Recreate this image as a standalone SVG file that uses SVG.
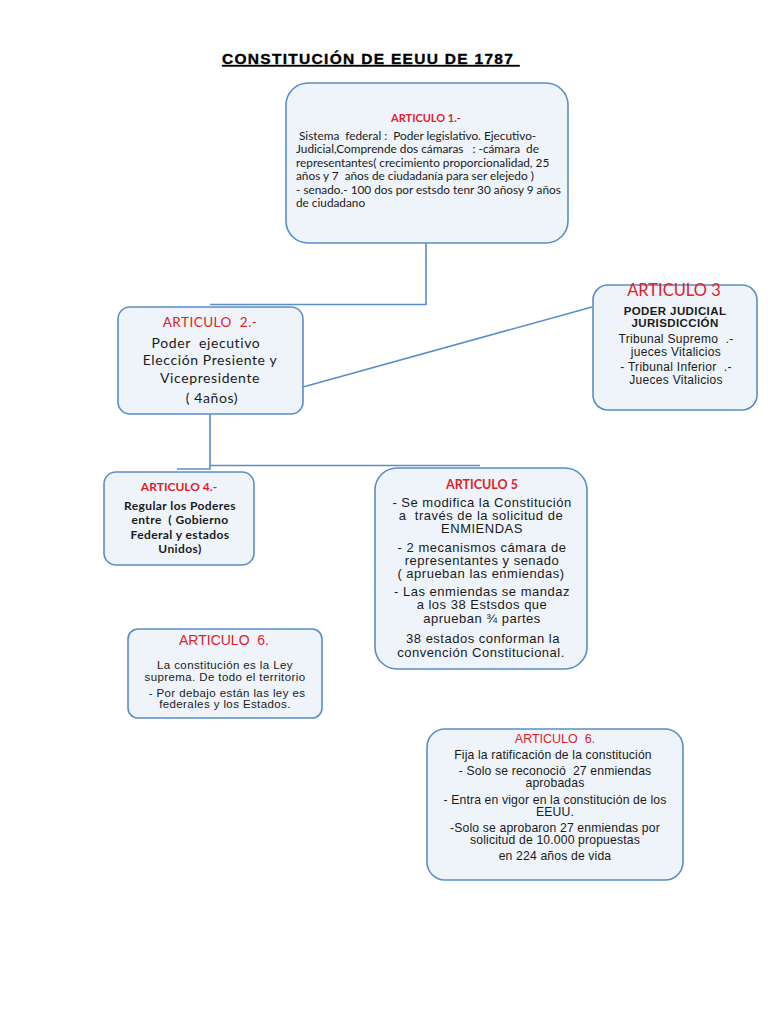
<svg xmlns="http://www.w3.org/2000/svg" width="768" height="1024" viewBox="0 0 768 1024">
<style>
.box{fill:#eef4fa;stroke:#5b8dc8;stroke-width:1.6}
.con{fill:none;stroke:#5b8dc8;stroke-width:1.6}
.cal{font-family:Lato,"Open Sans","Liberation Sans",sans-serif;fill:#1a1a1a}
.ari{font-family:"Liberation Sans",Arial,sans-serif;fill:#1a1a1a}
.c{text-anchor:middle}
.cal.red,.ari.red{fill:#e3202a}
</style>
<rect width="768" height="1024" fill="#ffffff"/>
<text x="222" y="64" xml:space="preserve" font-family="'Liberation Sans',Arial,sans-serif" font-weight="bold" font-size="15.5" letter-spacing="1.3" text-decoration="underline" fill="#000" stroke="#000" stroke-width="0.35">CONSTITUCIÓN DE EEUU DE 1787 </text>
<g id="connectors">
<path class="con" d="M426 243 V304.5 H210"/>
<path class="con" d="M303 387 L592 307"/>
<path class="con" d="M210 414 V469 H177"/>
<path class="con" d="M210 465.5 H480"/>
</g>
<g id="art1">
<rect class="box" x="286" y="83" width="282" height="160" rx="22"/>
<text class="cal c red" x="426" y="122" font-size="11" font-weight="bold">ARTICULO 1.-</text>
<g class="cal" font-size="11.8">
<text x="296" y="140" xml:space="preserve"> Sistema  federal :  Poder legislativo. Ejecutivo-</text>
<text x="296" y="153" xml:space="preserve">Judicial,Comprende dos cámaras   : -cámara  de</text>
<text x="296" y="167">representantes( crecimiento proporcionalidad, 25</text>
<text x="296" y="180" xml:space="preserve">años y 7  años de ciudadanía para ser elejedo )</text>
<text x="296" y="194">- senado.- 100 dos por estsdo tenr 30 añosy 9 años</text>
<text x="296" y="207">de ciudadano</text>
</g>
</g>
<g id="art2">
<rect class="box" x="118" y="307" width="185" height="107" rx="12"/>
<text class="cal c red" x="210" y="327" font-size="13.5" letter-spacing="0.5" xml:space="preserve">ARTICULO  2.-</text>
<g class="cal c" font-size="14" letter-spacing="0.6">
<text x="206" y="348" xml:space="preserve">Poder  ejecutivo</text>
<text x="210" y="365">Elección Presiente y</text>
<text x="210" y="383">Vicepresidente</text>
<text x="212" y="403">( 4años)</text>
</g>
</g>
<g id="art3">
<rect class="box" x="593" y="285" width="164" height="125" rx="15"/>
<text class="cal c red" x="674" y="296" font-size="16.5">ARTICULO 3</text>
<g class="ari c" font-size="11.5" font-weight="bold" letter-spacing="0.4">
<text x="675" y="315">PODER JUDICIAL</text>
<text x="675" y="327">JURISDICCIÓN</text>
</g>
<g class="ari c" font-size="12" letter-spacing="0.3">
<text x="676" y="343" xml:space="preserve">Tribunal Supremo  .-</text>
<text x="676" y="356">jueces Vitalicios</text>
<text x="676" y="371" xml:space="preserve">- Tribunal Inferior  .-</text>
<text x="676" y="384">Jueces Vitalicios</text>
</g>
</g>
<g id="art4">
<rect class="box" x="104" y="472" width="150" height="93" rx="12"/>
<text class="cal c red" x="179" y="491" font-size="12" font-weight="bold">ARTICULO 4.-</text>
<g class="cal c" font-size="12" font-weight="bold" letter-spacing="0.4">
<text x="180" y="510">Regular los Poderes</text>
<text x="180" y="524" xml:space="preserve">entre  ( Gobierno</text>
<text x="180" y="539">Federal y estados</text>
<text x="180" y="553">Unidos)</text>
</g>
</g>
<g id="art5">
<rect class="box" x="375" y="468" width="212" height="201" rx="22"/>
<text class="cal c red" x="482" y="489" font-size="12.5" font-weight="bold">ARTICULO 5</text>
<g class="ari c" font-size="13" letter-spacing="0.5">
<text x="482" y="507">- Se modifica la Constitución</text>
<text x="481" y="520" xml:space="preserve">a  través de la solicitud de</text>
<text x="482" y="533">ENMIENDAS</text>
<text x="482" y="552">- 2 mecanismos cámara de</text>
<text x="482" y="565">representantes y senado</text>
<text x="481" y="578">( aprueban las enmiendas)</text>
<text x="482" y="596">- Las enmiendas se mandaz</text>
<text x="482" y="609">a los 38 Estsdos que</text>
<text x="482" y="623">aprueban ¾ partes</text>
<text x="483" y="643">38 estados conforman la</text>
<text x="481" y="657">convención Constitucional.</text>
</g>
</g>
<g id="art6a">
<rect class="box" x="128" y="629" width="194" height="89" rx="10"/>
<text class="ari c red" x="224" y="645" font-size="14" xml:space="preserve">ARTICULO  6.</text>
<g class="ari c" font-size="11.5" letter-spacing="0.4">
<text x="225" y="669">La constitución es la Ley</text>
<text x="225" y="681">suprema. De todo el territorio</text>
<text x="227" y="697">- Por debajo están las ley es</text>
<text x="225" y="708">federales y los Estados.</text>
</g>
</g>
<g id="art6b">
<rect class="box" x="427" y="729" width="256" height="151" rx="18"/>
<text class="ari c red" x="555" y="743" font-size="12.5" xml:space="preserve">ARTICULO  6.</text>
<g class="ari c" font-size="12.2" letter-spacing="0.15">
<text x="553" y="759">Fija la ratificación de la constitución</text>
<text x="555" y="775" xml:space="preserve">- Solo se reconoció  27 enmiendas</text>
<text x="555" y="787">aprobadas</text>
<text x="555" y="804">- Entra en vigor en la constitución de los</text>
<text x="555" y="816">EEUU.</text>
<text x="555" y="832">-Solo se aprobaron 27 enmiendas por</text>
<text x="555" y="844">solicitud de 10.000 propuestas</text>
<text x="555" y="860">en 224 años de vida</text>
</g>
</g>
</svg>
